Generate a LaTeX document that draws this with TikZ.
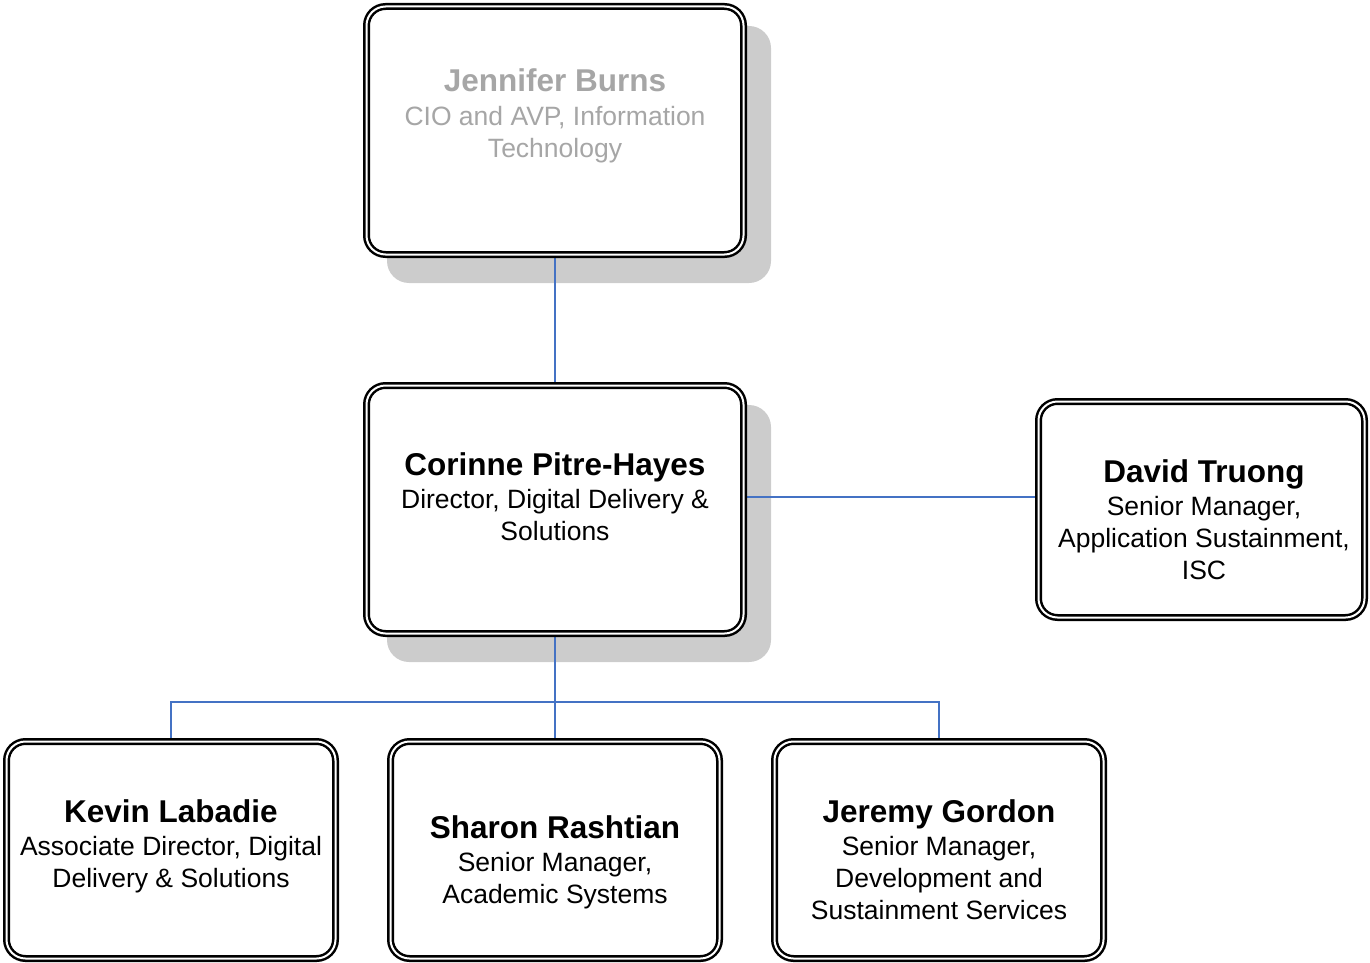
\documentclass[tikz,border=0pt]{standalone}
\usepackage{fontspec}
\setmainfont{Liberation Sans}
\definecolor{linkblue}{RGB}{68,114,196}
\definecolor{shadowgray}{RGB}{204,204,204}
\definecolor{dimgray}{RGB}{166,166,166}
\pgfdeclarelayer{shadowlayer}
\pgfdeclarelayer{linklayer}
\pgfsetlayers{shadowlayer,linklayer,main}
\newcommand{\nm}[1]{{\fontsize{31.5}{34}\selectfont\bfseries #1}}
\newcommand{\cardlines}[1]{\begin{tabular}[t]{@{}c@{}}#1\end{tabular}}
\begin{document}
\begin{tikzpicture}[x=1pt,y=-1pt,
  card/.style={draw=black, double=white, line width=2.5pt, double distance=2pt,
    rounded corners=19pt, fill=white, inner sep=0pt, outer sep=0pt},
  bigcard/.style={card, minimum width=377pt, minimum height=248pt},
  smallcard/.style={card, minimum width=329pt, minimum height=217pt},
  cardtext/.style={inner sep=0pt, anchor=base, font=\fontsize{26.5}{32}\selectfont},
  link/.style={draw=linkblue, line width=2pt},
  dropshadow/.style={fill=shadowgray, rounded corners=22pt}]
\useasboundingbox (0,0) rectangle (1370,963);

% boxes
\node[bigcard] (jb) at (555,130.5) {};
\node[bigcard] (cp) at (555,509.5) {};
\node[card, minimum width=326pt, minimum height=216pt] (dt) at (1201.5,509.5) {};
\node[smallcard] (kl) at (171,850) {};
\node[smallcard] (sr) at (555,850) {};
\node[smallcard] (jg) at (939,850) {};

% shadows
\begin{pgfonlayer}{shadowlayer}
\fill[dropshadow] ([shift={(20.5,19.5)}]jb.north west) rectangle ([shift={(27.5,28.5)}]jb.south east);
\fill[dropshadow] ([shift={(20.5,19.5)}]cp.north west) rectangle ([shift={(27.5,28.5)}]cp.south east);
\end{pgfonlayer}

% connectors
\begin{pgfonlayer}{linklayer}
\draw[link] (jb.south) -- (cp.north);
\draw[link] ([yshift=12.5pt]cp.east) -- ([yshift=12.5pt]dt.west);
\draw[link] (cp.south) -- (sr.north);
\draw[link] (kl.north) -- ++(0,-39.5) -| (jg.north);
\end{pgfonlayer}

% texts
\node[cardtext, text=dimgray] (jbt) at (555,92)
  {\cardlines{\nm{Jennifer Burns}\\[1.5pt] CIO and AVP, Information\\ Technology}};
\node[cardtext] (cpt) at (555,475)
  {\cardlines{\nm{Corinne Pitre-Hayes}\\[1.5pt] Director, Digital Delivery \&\\ Solutions}};
\node[cardtext] (dtt) at (1204,482)
  {\cardlines{\nm{David Truong}\\[1.5pt] Senior Manager,\\ Application Sustainment,\\ ISC}};
\node[cardtext] (klt) at (171,822)
  {\cardlines{\nm{Kevin Labadie}\\[1.5pt] Associate Director, Digital\\ Delivery \& Solutions}};
\node[cardtext] (srt) at (555,838)
  {\cardlines{\nm{Sharon Rashtian}\\[1.5pt] Senior Manager,\\ Academic Systems}};
\node[cardtext] (jgt) at (939,822)
  {\cardlines{\nm{Jeremy Gordon}\\[1.5pt] Senior Manager,\\ Development and\\ Sustainment Services}};
\end{tikzpicture}
\end{document}
